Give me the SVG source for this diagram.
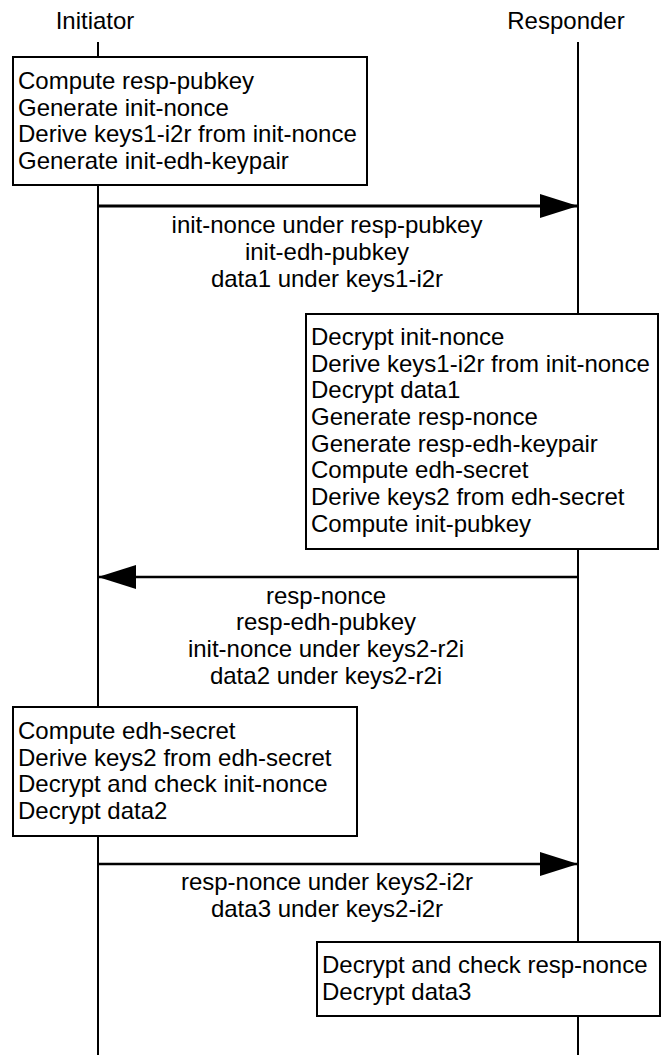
<svg xmlns="http://www.w3.org/2000/svg" width="662" height="1055" viewBox="0 0 662 1055">
<style>
text{font-family:"Liberation Sans",Arial,sans-serif;font-size:24px;fill:#000}
.c{text-anchor:middle}
.life{stroke:#000;stroke-width:2;fill:none}
.box{fill:#fff;stroke:#000;stroke-width:2}
.msg{stroke:#000;fill:none}
</style>
<defs>
<marker id="ah" markerUnits="userSpaceOnUse" markerWidth="38" markerHeight="24" refX="38" refY="12" orient="auto">
<path d="M0,0 L38,12 L0,24 Z" fill="#000"/>
</marker>
</defs>
<g id="lifelines">
<text class="c" x="95" y="29">Initiator</text>
<text class="c" x="566" y="29">Responder</text>
<line class="life" x1="98" y1="42" x2="98" y2="1055"/>
<line class="life" x1="578" y1="42" x2="578" y2="1055"/>
</g>
<g id="connectors">
<line class="msg" x1="98" y1="206" x2="578" y2="206" stroke-width="3" marker-end="url(#ah)"/>
<line class="msg" x1="578" y1="577" x2="98" y2="577" stroke-width="2.5" marker-end="url(#ah)"/>
<line class="msg" x1="98" y1="864" x2="578" y2="864" stroke-width="2.5" marker-end="url(#ah)"/>
<text class="c" x="327" y="233">init-nonce under resp-pubkey</text>
<text class="c" x="327" y="260">init-edh-pubkey</text>
<text class="c" x="327" y="287">data1 under keys1-i2r</text>
<text class="c" x="326" y="604">resp-nonce</text>
<text class="c" x="326" y="630">resp-edh-pubkey</text>
<text class="c" x="326" y="657">init-nonce under keys2-r2i</text>
<text class="c" x="326" y="684">data2 under keys2-r2i</text>
<text class="c" x="327" y="890">resp-nonce under keys2-i2r</text>
<text class="c" x="327" y="917">data3 under keys2-i2r</text>
</g>
<g id="box1">
<rect class="box" x="13" y="57" width="354" height="128"/>
<text x="18" y="89">Compute resp-pubkey</text>
<text x="18" y="116">Generate init-nonce</text>
<text x="18" y="142">Derive keys1-i2r from init-nonce</text>
<text x="18" y="169">Generate init-edh-keypair</text>
</g>
<g id="box2">
<rect class="box" x="306" y="314" width="352" height="235"/>
<text x="311" y="345">Decrypt init-nonce</text>
<text x="311" y="372">Derive keys1-i2r from init-nonce</text>
<text x="311" y="398">Decrypt data1</text>
<text x="311" y="425">Generate resp-nonce</text>
<text x="311" y="452">Generate resp-edh-keypair</text>
<text x="311" y="478">Compute edh-secret</text>
<text x="311" y="505">Derive keys2 from edh-secret</text>
<text x="311" y="532">Compute init-pubkey</text>
</g>
<g id="box3">
<rect class="box" x="13" y="707" width="344" height="129"/>
<text x="18" y="739">Compute edh-secret</text>
<text x="18" y="766">Derive keys2 from edh-secret</text>
<text x="18" y="792">Decrypt and check init-nonce</text>
<text x="18" y="819">Decrypt data2</text>
</g>
<g id="box4">
<rect class="box" x="317" y="942" width="343" height="74"/>
<text x="322" y="973">Decrypt and check resp-nonce</text>
<text x="322" y="1000">Decrypt data3</text>
</g>
</svg>
